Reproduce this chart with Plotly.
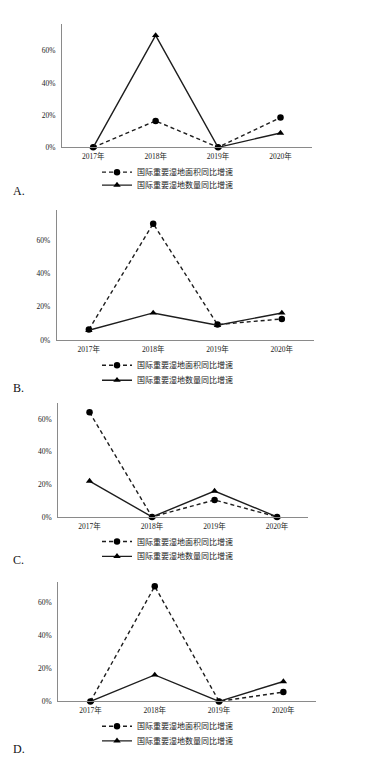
import plotly.graph_objects as go

years = ["2017年", "2018年", "2019年", "2020年"]
area_name = "国际重要湿地面积同比增速"
count_name = "国际重要湿地数量同比增速"
panel_labels = ["A.", "B.", "C.", "D."]

# growth rates (fractions)
area_A = [0.0, 0.164, 0.0, 0.185]
count_A = [0.0, 0.695, 0.0, 0.089]
area_B = [0.063, 0.70, 0.093, 0.127]
count_B = [0.059, 0.163, 0.089, 0.163]
area_C = [0.643, 0.0, 0.104, 0.0]
count_C = [0.22, 0.0, 0.159, 0.0]
area_D = [0.0, 0.695, 0.0, 0.056]
count_D = [0.0, 0.16, 0.0, 0.12]

y_tickvals = [0, 0.2, 0.4, 0.6]
y_ticktext = ["0%", "20%", "40%", "60%"]

W, H = 386, 765
# pixel boxes of each plot area: (left, right, top, bottom, ymax)
boxes = [
    (62, 311.7, 24.3, 148.3, 0.765),
    (56.7, 314, 211.7, 342.3, 0.78),
    (58.3, 308.3, 405.7, 520.3, 0.70),
    (58.3, 315.5, 586, 706, 0.72),
]
legend_rows = [(173.3, 186.3), (367.7, 382.7), (545, 560), (731, 745.7)]
label_y = [192.5, 391, 563.5, 753.5]

series = [(area_A, count_A), (area_B, count_B), (area_C, count_C), (area_D, count_D)]

fig = go.Figure()
tickfont = dict(family="Liberation Serif, Noto Sans CJK SC", size=7.5, color="#222")
line_col = "#1e1e1e"
layout = dict(width=W, height=H, margin=dict(l=0, r=0, t=0, b=0),
              paper_bgcolor="white", plot_bgcolor="white", showlegend=True)
annotations = []
for i, ((a, c), (l, r, t, b, ymax)) in enumerate(zip(series, boxes)):
    sfx = "" if i == 0 else str(i + 1)
    xa, ya = "x" + sfx, "y" + sfx
    lg1 = "legend" if i == 0 else "legend" + str(2 * i + 1)
    lg2 = "legend" + str(2 * i + 2)
    fig.add_trace(go.Scatter(x=years, y=a, name=area_name, xaxis=xa, yaxis=ya,
                             mode="lines+markers", cliponaxis=False, legend=lg1,
                             line=dict(color=line_col, width=1.4, dash="4px,3px"),
                             marker=dict(symbol="circle", size=6.5, color="black")))
    fig.add_trace(go.Scatter(x=years, y=c, name=count_name, xaxis=xa, yaxis=ya,
                             mode="lines+markers", cliponaxis=False, legend=lg2,
                             line=dict(color=line_col, width=1.4),
                             marker=dict(symbol="triangle-up", size=6.5, color="black")))
    layout["xaxis" + sfx] = dict(domain=[l / W, r / W], anchor=ya, type="category",
                                 range=[-0.5, 3.5], showline=True, linecolor="#8a8a8a",
                                 linewidth=1, showgrid=False, zeroline=False,
                                 ticks="", ticklabelstandoff=2, tickfont=tickfont,
                                 fixedrange=True)
    layout["yaxis" + sfx] = dict(domain=[1 - b / H, 1 - t / H], anchor=xa,
                                 range=[0, ymax], showline=True, linecolor="#8a8a8a",
                                 linewidth=1, showgrid=False, zeroline=False,
                                 tickvals=y_tickvals, ticktext=y_ticktext, ticks="",
                                 ticklabelstandoff=4, tickfont=tickfont, fixedrange=True)
    for lg, yy in ((lg1, legend_rows[i][0]), (lg2, legend_rows[i][1])):
        layout[lg] = dict(x=97 / W, y=1 - yy / H, xanchor="left", yanchor="middle",
                          bgcolor="rgba(0,0,0,0)", borderwidth=0,
                          font=dict(family="Noto Sans CJK SC", size=8, color="#222"))
    annotations.append(dict(text=panel_labels[i], xref="paper", yref="paper",
                            x=11 / W, y=1 - label_y[i] / H, xanchor="left",
                            yanchor="middle", showarrow=False,
                            font=dict(family="Liberation Serif", size=12, color="#111")))
layout["annotations"] = annotations
fig.update_layout(**layout)
fig.write_html("out.html", config={"displayModeBar": False},
               post_script="document.body.style.margin='0';document.body.style.overflow='hidden';")
